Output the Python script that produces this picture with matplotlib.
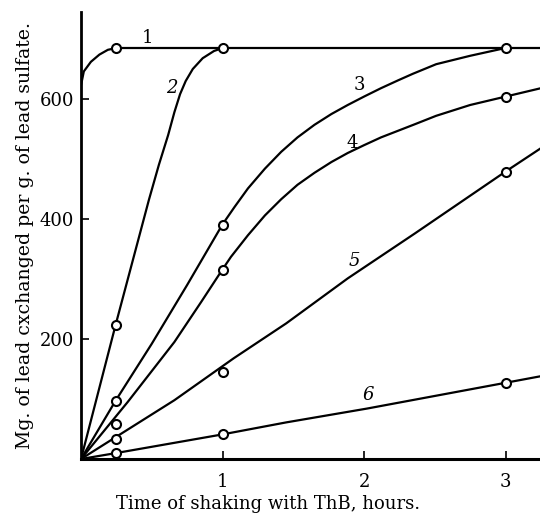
import matplotlib
matplotlib.use("Agg")
import matplotlib.pyplot as plt

# curve traces (hours, mg of lead)
c1_x = [0.0, 0.02, 0.07, 0.13, 0.19, 0.25, 1.0, 3.0, 3.25]
c1_y = [623, 646, 662, 674, 682, 685, 685, 685, 685]
c2_x = [0.0, 0.244, 0.41, 0.48, 0.55, 0.616, 0.66, 0.70, 0.74, 0.79, 0.86, 0.94, 1.0]
c2_y = [0, 223, 370, 432, 490, 540, 578, 608, 630, 650, 668, 680, 685]
c3_x = [0.0, 0.244, 0.5, 0.75, 1.0, 1.085, 1.18, 1.30, 1.415, 1.53, 1.65, 1.77,
        1.885, 2.0, 2.12, 2.24, 2.345, 2.51, 2.75, 3.0]
c3_y = [0, 97, 192, 290, 391, 420, 451, 484, 512, 536, 557, 575,
        590, 604, 618, 631, 642, 658, 672, 685]
c4_x = [0.0, 0.33, 0.66, 0.85, 1.0, 1.06, 1.18, 1.30, 1.415, 1.53, 1.65, 1.77, 1.885,
        2.0, 2.12, 2.24, 2.36, 2.51, 2.75, 3.0, 3.25]
c4_y = [0, 95, 195, 262, 316, 337, 373, 406, 433, 457, 477, 495, 510,
        523, 536, 547, 558, 572, 590, 604, 618]
c5_x = [0.0, 0.66, 1.08, 1.45, 1.885, 2.36, 3.0, 3.25]
c5_y = [0, 98, 168, 226, 301, 376, 479, 518]
c6_x = [0.0, 0.25, 1.0, 1.45, 2.02, 3.0, 3.25]
c6_y = [0, 10, 41, 61, 84, 127, 138]

# measured points (open circles)
pts_x = [0.25, 0.25, 1.0, 0.25, 1.0, 3.0, 0.25, 1.0, 3.0, 0.25, 1.0, 3.0, 0.25, 1.0, 3.0]
pts_y = [685, 223, 685, 97, 390, 685, 58, 315, 604, 33, 145, 479, 10, 41, 127]

labels = ["1", "2", "3", "4", "5", "6"]
label_x = [0.47, 0.64, 1.97, 1.92, 1.93, 2.03]
label_y = [702, 618, 623, 526, 330, 107]

SERIF = 'DejaVu Serif'

fig = plt.figure(figsize=(5.4, 5.15), dpi=100)
ax = fig.add_axes([81/540, 56/515, 459/540, 447/515])

for xs, ys in [(c1_x, c1_y), (c2_x, c2_y), (c3_x, c3_y), (c4_x, c4_y), (c5_x, c5_y), (c6_x, c6_y)]:
    ax.plot(xs, ys, color='black', linewidth=1.6, solid_capstyle='round', solid_joinstyle='round')

ax.plot(pts_x, pts_y, linestyle='none', marker='o', markersize=6.5,
        markerfacecolor='white', markeredgecolor='black', markeredgewidth=1.5, zorder=3)

for lab, lx, ly in zip(labels, label_x, label_y):
    st = 'italic' if lab in ('2', '5', '6') else 'normal'
    ax.text(lx, ly, lab, fontsize=13, fontfamily=SERIF, fontstyle=st,
            ha='center', va='center')

ax.set_xlim(0, 459/141.5)
ax.set_ylim(0, 745)
ax.spines['top'].set_visible(False)
ax.spines['right'].set_visible(False)
ax.spines['left'].set_linewidth(2)
ax.spines['bottom'].set_linewidth(2.2)
ax.set_xticks([1, 2, 3])
ax.set_yticks([200, 400, 600])
ax.tick_params(direction='in', length=6, width=1.2, labelsize=13)
ax.tick_params(axis='x', pad=10)
ax.tick_params(axis='y', pad=5)
for t in ax.get_xticklabels() + ax.get_yticklabels():
    t.set_fontfamily(SERIF)

ax.set_xlabel("Time of shaking with ThB, hours.", fontsize=13, fontfamily=SERIF)
ax.xaxis.set_label_coords(0.407, -0.081)
ax.set_ylabel("Mg. of lead cxchanged per g. of lead sulfate.", fontsize=13.6, fontfamily=SERIF, labelpad=4)

fig.savefig("out.png", dpi=100)
